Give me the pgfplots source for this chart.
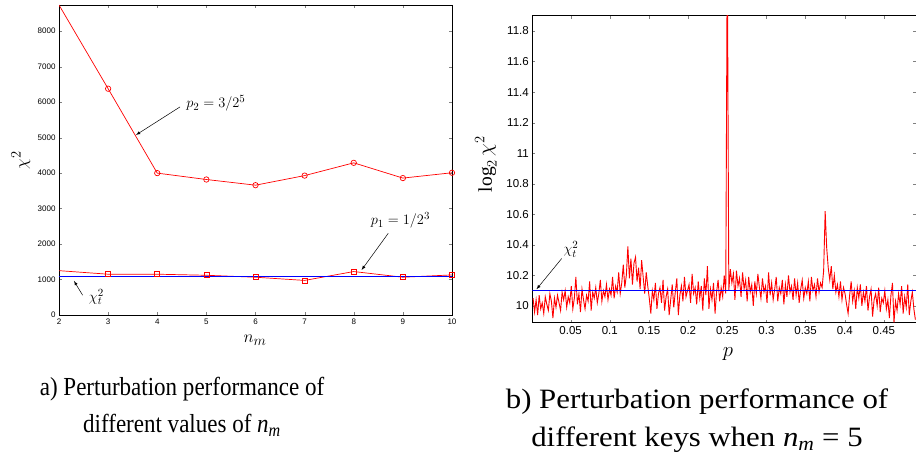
\documentclass[border=0pt]{standalone}
\usepackage{fontspec}
\setmainfont{Liberation Serif}
\newfontfamily\tickfont{Liberation Sans}
\usepackage{pgfplots}
\usepackage{pgfplotstable}
\pgfplotsset{compat=1.18}

\pgfplotstableread{
n p2
2 8740
3 6380
4 4000
5 3820
6 3660
7 3930
8 4290
9 3860
10 4010
}\tableptwo

\pgfplotstableread{
n p1
2 1250
3 1150
4 1150
5 1120
6 1065
7 975
8 1225
9 1065
10 1130
}\tablepone

\pgfplotstableread{
k v
1 10.05
2 9.96
3 10.04
4 9.94
5 10.07
6 9.98
7 10.02
8 9.95
9 10.06
10 10.01
11 9.97
12 10.08
13 10.03
14 9.92
15 10.05
16 9.99
17 10.07
18 10.02
19 9.97
20 10.09
21 10.04
22 10.10
23 9.99
24 10.06
25 10.02
26 10.13
27 9.98
28 10.05
29 10.19
30 10.01
31 10.08
32 9.96
33 10.11
34 10.04
35 9.98
36 10.07
37 10.03
38 10.16
39 9.97
40 10.09
41 10.05
42 10.12
43 10.02
44 10.08
45 10.17
46 10.03
47 10.10
48 10.06
49 10.14
50 10.04
51 10.11
52 10.07
53 10.19
54 10.05
55 10.13
56 10.09
57 10.22
58 10.08
59 10.15
60 10.27
61 10.12
62 10.20
63 10.39
64 10.18
65 10.31
66 10.14
67 10.28
68 10.32
69 10.16
70 10.25
71 10.11
72 10.30
73 10.19
74 10.08
75 10.22
76 10.13
77 10.05
78 9.95
79 10.10
80 10.04
81 10.15
82 9.98
83 10.08
84 10.12
85 10.02
86 10.17
87 9.97
88 10.06
89 10.11
90 9.94
91 10.04
92 10.14
93 9.99
94 10.09
95 10.18
96 9.94
97 10.07
98 10.13
99 10.03
100 10.19
101 10.06
102 10.10
103 10.14
104 10.02
105 10.21
106 10.08
107 10.12
108 10.01
109 10.16
110 10.05
111 10.13
112 9.97
113 10.18
114 10.07
115 10.26
116 9.98
117 10.11
118 10.04
119 10.15
120 9.95
121 10.09
122 10.17
123 10.03
124 10.12
125 10.06
126 10.20
127 10.08
128 12.40
129 10.10
130 10.24
131 10.15
132 10.21
133 10.04
134 10.23
135 10.13
136 10.18
137 10.06
138 10.22
139 10.11
140 10.17
141 10.03
142 10.19
143 10.09
144 10.14
145 10.00
146 10.16
147 10.08
148 10.21
149 10.12
150 10.05
151 10.18
152 10.09
153 10.13
154 10.02
155 10.22
156 10.07
157 10.15
158 10.04
159 10.11
160 10.19
161 10.03
162 10.12
163 10.08
164 10.17
165 10.01
166 10.14
167 10.06
168 10.20
169 10.09
170 10.13
171 10.04
172 10.18
173 10.07
174 10.15
175 10.02
176 10.11
177 10.17
178 10.05
179 10.12
180 10.08
181 10.16
182 10.03
183 10.19
184 10.10
185 10.14
186 10.06
187 10.18
188 10.09
189 10.15
190 10.12
191 10.23
192 10.62
193 10.38
194 10.25
195 10.17
196 10.26
197 10.11
198 10.20
199 10.09
200 10.14
201 10.06
202 10.16
203 10.04
204 10.12
205 10.08
206 10.01
207 9.95
208 10.07
209 10.16
210 10.03
211 10.10
212 9.98
213 10.12
214 10.05
215 10.14
216 10.00
217 10.09
218 10.03
219 10.13
220 9.97
221 10.06
222 10.11
223 9.93
224 10.04
225 10.08
226 10.00
227 10.12
228 9.96
229 10.05
230 10.02
231 10.10
232 9.98
233 10.04
234 9.92
235 10.07
236 10.15
237 9.89
238 10.03
239 9.97
240 10.08
241 10.01
242 10.13
243 9.95
244 10.06
245 9.99
246 10.14
247 9.94
248 10.03
249 10.09
250 9.98
251 9.91
}\tablekeys

\begin{document}
\begin{tikzpicture}[x=1pt,y=1pt]
\useasboundingbox (0,0) rectangle (916,457);

% ---------- left panel ----------
\begin{axis}[
  at={(59pt,142pt)}, anchor=south west,
  scale only axis, width=393pt, height=310pt,
  xmin=2, xmax=10, ymin=0, ymax=8740,
  xtick={2,3,4,5,6,7,8,9,10},
  ytick={0,1000,2000,3000,4000,5000,6000,7000,8000},
  scaled y ticks=false,
  /pgf/number format/assume math mode=true,
  /pgf/number format/set thousands separator={},
  tick label style={font=\tickfont\fontsize{8}{9}\selectfont},
  tick align=inside, major tick length=3pt,
  xtick pos=both, ytick pos=both,
  axis line style={line width=0.9pt},
  xlabel={$n_m$}, ylabel={$\chi^2$},
  label style={font=\fontsize{19}{21}\selectfont},
  xlabel style={at={(axis description cs:0.499,-0.081)}, anchor=center},
  ylabel style={at={(axis description cs:-0.097,0.5)}, anchor=center},
  clip=true,
]
\addplot[red, line width=0.7pt, mark=o, mark size=2.7pt, mark indices={2,3,4,5,6,7,8,9}] table[x=n, y=p2] {\tableptwo};
\addplot[red, line width=0.7pt, mark=square, mark size=2.5pt, mark indices={2,3,4,5,6,7,8,9}] table[x=n, y=p1] {\tablepone};
\addplot[blue, line width=0.9pt] coordinates {(2,1100) (10,1100)};
\draw[-latex, line width=0.5pt] (axis cs:4.463,5866) -- (axis cs:3.567,5076);
\node[anchor=west, font=\fontsize{15.5}{17}\selectfont] at (axis cs:4.52,5960) {$p_2 = 3/2^5$};
\draw[-latex, line width=0.5pt] (axis cs:8.703,2304) -- (axis cs:8.16,1269);
\node[anchor=center, font=\fontsize{15.5}{17}\selectfont] at (axis cs:8.95,2660) {$p_1 = 1/2^3$};
\draw[-latex, line width=0.5pt] (axis cs:2.48,560) -- (axis cs:2.305,959);
\node[anchor=center, font=\fontsize{15.5}{17}\selectfont] at (axis cs:2.76,510) {$\chi_t^2$};
\end{axis}

% ---------- right panel ----------
\begin{axis}[
  at={(532.3pt,134.3pt)}, anchor=south west,
  scale only axis, width=383.7pt, height=307pt,
  xmin=0.001, xmax=0.491, ymin=9.89, ymax=11.9,
  xtick={0.05,0.1,0.15,0.2,0.25,0.3,0.35,0.4,0.45},
  ytick={10,10.2,10.4,10.6,10.8,11,11.2,11.4,11.6,11.8},
  xticklabels={0.05,0.1,0.15,0.2,0.25,0.3,0.35,0.4,0.45},
  yticklabels={10,10.2,10.4,10.6,10.8,11,11.2,11.4,11.6,11.8},
  tick label style={font=\tickfont\fontsize{11.5}{12}\selectfont},
  tick align=inside, major tick length=3pt,
  xtick pos=both, ytick pos=both,
  axis line style={line width=0.9pt},
  xlabel={$p$}, ylabel={$\log_2\chi^2$},
  label style={font=\fontsize{19.5}{21}\selectfont},
  xlabel style={at={(axis description cs:0.51,-0.102)}, anchor=center},
  ylabel style={at={(axis description cs:-0.121,0.517)}, anchor=center},
]
\addplot[red, line width=0.9pt] table[x expr=\thisrow{k}/512, y=v] {\tablekeys};
\addplot[blue, line width=0.9pt] coordinates {(0.001,10.1) (0.491,10.1)};
\draw[-latex, line width=0.5pt] (axis cs:0.0385,10.31) -- (axis cs:0.0064,10.109);
\node[anchor=center, font=\fontsize{15.5}{17}\selectfont] at (axis cs:0.0505,10.37) {$\chi_t^2$};
\end{axis}

% ---------- captions ----------
\node[align=center, font=\fontsize{26}{37}\selectfont, xscale=0.885] at (182,50.5)
  {a) Perturbation performance of\\different values of \textit{n}\textsubscript{\textit{m}}};
\node[align=center, font=\fontsize{28}{38}\selectfont, xscale=1.1] at (697,36)
  {b) Perturbation performance of\\different keys when \textit{n}\textsubscript{\textit{m}} = 5};
\end{tikzpicture}
\end{document}
